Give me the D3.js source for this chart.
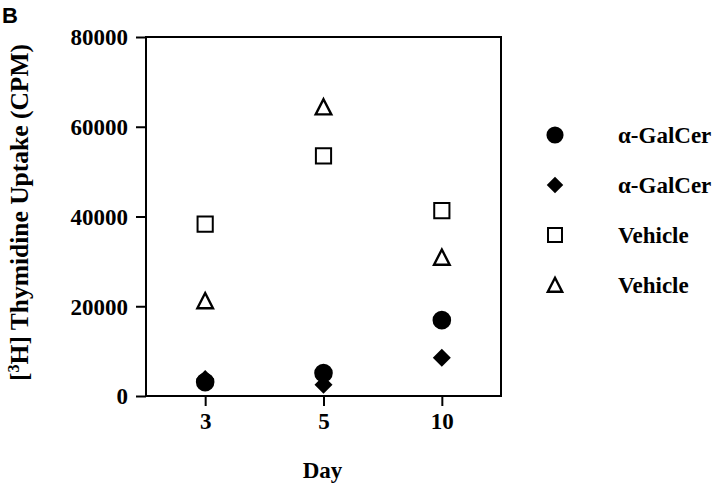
<!DOCTYPE html>
<html>
<head>
<meta charset="utf-8">
<script src="https://cdn.jsdelivr.net/npm/d3@7"></script>
<style>
  html, body { margin: 0; padding: 0; background: #fff; }
  svg { display: block; }
  text { font-family: "Liberation Serif", "Times New Roman", serif; font-weight: bold; fill: #000; }
</style>
</head>
<body>
<svg id="chart" width="720" height="488"></svg>
<script>
// ---- data ----
const days = [3, 5, 10];
const galcerCircle = [3100, 5100, 16900];
const galcerDiamond = [3800, 2500, 8500];
const vehicleSquare = [38300, 53500, 41300];
const vehicleTriangle = [21200, 64400, 30900];
const yTicks = [0, 20000, 40000, 60000, 80000];
const legendLabels = ["α-GalCer", "α-GalCer", "Vehicle", "Vehicle"];
const yTitle = "Thymidine Uptake (CPM)";
const xTitle = "Day";

// ---- layout ----
const svg = d3.select("#chart");
const m = { left: 146, right: 501, top: 37, bottom: 396 };

const x = d3.scalePoint().domain(days).range([m.left, m.right]).padding(0.5);
const y = d3.scaleLinear().domain([0, 80000]).range([m.bottom, m.top]);

// custom symbols
const symCircle = { draw(ctx, r) { ctx.moveTo(r, 0); ctx.arc(0, 0, r, 0, 2 * Math.PI); } };
const symDiamond = { draw(ctx, h) { ctx.moveTo(0, -h); ctx.lineTo(h, 0); ctx.lineTo(0, h); ctx.lineTo(-h, 0); ctx.closePath(); } };
const symSquare = { draw(ctx, h) { ctx.rect(-h, -h, 2 * h, 2 * h); } };
const symTriangle = { draw(ctx, h) { ctx.moveTo(0, -h); ctx.lineTo(h, h * 0.95); ctx.lineTo(-h, h * 0.95); ctx.closePath(); } };

const series = [
  { values: galcerCircle, type: symCircle, size: 9.3, fill: "#000", stroke: "none", sw: 0 },
  { values: galcerDiamond, type: symDiamond, size: 9, fill: "#000", stroke: "none", sw: 0 },
  { values: vehicleSquare, type: symSquare, size: 7.6, fill: "none", stroke: "#000", sw: 2 },
  { values: vehicleTriangle, type: symTriangle, size: 7.8, fill: "none", stroke: "#000", sw: 2.4 }
];

// axes
const yAxis = d3.axisLeft(y).tickValues(yTicks).tickSize(10).tickPadding(8).tickFormat(d3.format("d"));
const gy = svg.append("g").attr("transform", `translate(${m.left},0)`).call(yAxis);
gy.select(".domain").remove();
gy.selectAll(".tick line").attr("stroke", "#000").attr("stroke-width", 2);
gy.selectAll(".tick text").style("font-size", "23px").attr("dy", "0.34em");

const xAxis = d3.axisBottom(x).tickSize(10).tickPadding(7);
const gx = svg.append("g").attr("transform", `translate(0,${m.bottom})`).call(xAxis);
gx.select(".domain").remove();
gx.selectAll(".tick line").attr("stroke", "#000").attr("stroke-width", 2);
gx.selectAll(".tick text").style("font-size", "23px");

// frame
svg.append("rect")
  .attr("x", m.left).attr("y", m.top)
  .attr("width", m.right - m.left).attr("height", m.bottom - m.top)
  .attr("fill", "none").attr("stroke", "#000").attr("stroke-width", 2);

// points
series.forEach(s => {
  svg.append("g").selectAll("path")
    .data(s.values.map((v, i) => ({ day: days[i], v })))
    .join("path")
    .attr("transform", d => `translate(${x(d.day)},${y(d.v)})`)
    .attr("d", d3.symbol(s.type, s.size)())
    .attr("fill", s.fill).attr("stroke", s.stroke).attr("stroke-width", s.sw);
});

// legend
const legY = d3.scalePoint().domain(d3.range(series.length)).range([135, 285]);
const leg = svg.append("g");
series.forEach((s, i) => {
  leg.append("path")
    .attr("transform", `translate(555,${legY(i)})`)
    .attr("d", d3.symbol(s.type, s.size * 0.92)())
    .attr("fill", s.fill).attr("stroke", s.stroke).attr("stroke-width", s.sw);
  leg.append("text")
    .attr("x", 618).attr("y", legY(i)).attr("dy", "0.33em")
    .style("font-size", "23px")
    .text(legendLabels[i]);
});

// axis titles
const yt = svg.append("text")
  .attr("transform", `translate(28,${(m.top + m.bottom) / 2 - 4}) rotate(-90)`)
  .attr("text-anchor", "middle")
  .style("font-size", "25.5px");
yt.append("tspan").text("[");
yt.append("tspan").text("3").style("font-size", "16px").attr("dy", "-9");
yt.append("tspan").text("H] ").attr("dy", "9");
yt.append("tspan").text(yTitle);

svg.append("text")
  .attr("x", (m.left + m.right) / 2 - 1).attr("y", 478)
  .attr("text-anchor", "middle")
  .style("font-size", "23px")
  .text(xTitle);

// panel letter
svg.append("text")
  .attr("x", 2).attr("y", 23)
  .style("font-family", "'Liberation Sans', Arial, sans-serif")
  .style("font-weight", "bold")
  .style("font-size", "22px")
  .text("B");
</script>
</body>
</html>
